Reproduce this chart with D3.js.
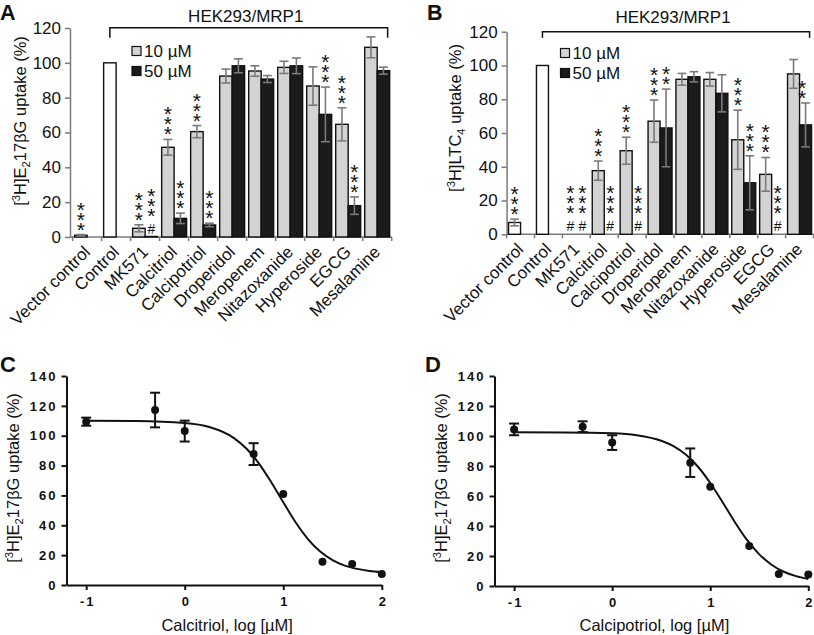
<!DOCTYPE html>
<html><head><meta charset="utf-8">
<script src="https://cdn.jsdelivr.net/npm/d3@7"></script>
<style>
body{margin:0;background:#fff}
svg{display:block}
text{font-family:"Liberation Sans",Arial,Helvetica,sans-serif}
</style>
</head><body>
<svg id="chart" width="814" height="635"></svg>
<script>
// ---------- data ----------
const categories = ["Vector control","Control","MK571","Calcitriol","Calcipotriol","Droperidol","Meropenem","Nitazoxanide","Hyperoside","EGCG","Mesalamine"];
const doses = ["10 µM","50 µM"];
const barTicks = [0,20,40,60,80,100,120];

// Panel A: [3H]E217βG uptake (%)
const aUptake10 = [1, 100, 5, 51.5, 60.5, 92.4, 95.3, 97.4, 86.7, 64.7, 108.9];
const aErr10    = [0.4, 0, 2, 4.5, 3.5, 4, 3, 3.5, 11, 9.5, 6];
const aUptake50 = [null, null, 0.3, 10.7, 6.9, 98.3, 90.7, 98.3, 70.4, 18, 95.5];
const aErr50    = [null, null, 0, 3, 1, 4, 2, 4.5, 15.7, 5, 2];
const aStars10  = [3,0,3,3,3,0,0,0,0,3,0];
const aStars50  = [0,0,3,3,3,0,0,0,3,3,0];
const aHash10   = [0,0,0,0,0,0,0,0,0,0,0];
const aHash50   = [0,0,1,0,0,0,0,0,0,0,0];

// Panel B: [3H]LTC4 uptake (%)
const bUptake10 = [7, 100, 0, 37.7, 49.5, 67, 91.8, 91.8, 56, 35.5, 95];
const bErr10    = [2, 0, 0, 5.7, 8, 12.5, 3.5, 4, 17.5, 10, 8.5];
const bUptake50 = [null, null, 0, 0, 0, 63, 93.3, 83.5, 30.5, 0, 64.8];
const bErr50    = [null, null, 0, 0, 0, 23, 3, 11, 16, 0, 13];
const bStars10  = [3,0,3,3,3,3,0,0,3,3,0];
const bStars50  = [0,0,3,3,3,2,0,0,3,3,2];
const bHash10   = [0,0,1,0,0,0,0,0,0,0,0];
const bHash50   = [0,0,1,1,1,0,0,0,0,1,0];

// Panel C: calcitriol concentration-response
const cLogConc = [-1, -0.301, 0, 0.699, 1, 1.398, 1.699, 2];
const cUptake  = [109.4, 117.2, 103.1, 87.7, 61, 15.6, 14.1, 7.4];
const cErr     = [2.7, 11.6, 7, 7.3, 0, 0, 0, 0];
const cFitX    = [-1, -0.5, 0, 0.25, 0.5, 0.625, 0.75, 0.875, 1, 1.125, 1.25, 1.375, 1.5, 1.625, 1.75, 1.875, 2];
const cFitY    = [110, 109.8, 108.5, 105.8, 98.4, 91.4, 81.7, 69.2, 55.4, 42.0, 30.8, 22.4, 16.7, 13.0, 10.8, 9.4, 8.6];

// Panel D: calcipotriol concentration-response
const dLogConc = [-1, -0.301, 0, 0.796, 1, 1.398, 1.699, 2];
const dUptake  = [104.4, 106.2, 95.6, 82.2, 66.2, 26.7, 8, 7.7];
const dErr     = [3.9, 3.6, 4.9, 9.5, 0, 0, 0, 0];
const dFitX    = [-1, -0.5, 0, 0.25, 0.5, 0.625, 0.75, 0.875, 1, 1.125, 1.25, 1.375, 1.5, 1.625, 1.75, 1.875, 2];
const dFitY    = [102.5, 102.4, 101.8, 100.5, 96.8, 93.2, 87.6, 79.5, 68.7, 56.0, 42.7, 30.7, 21.1, 14.2, 9.5, 6.6, 4.7];

const curveTicksX = [-1, 0, 1, 2];
const curveTicksY = [0,20,40,60,80,100,120,140];

// ---------- drawing ----------
const W = 814;
const svg = d3.select("#chart");
const LIGHT = "#d3d3d3", DARK = "#1b1b1b", GREY = "#7a7a7a";

function richLabel(sel, parts, size) {
  let shift = 0;
  parts.forEach(([t, kind]) => {
    const target = kind === "sup" ? -0.38 * size : kind === "sub" ? 0.25 * size : 0;
    sel.append("tspan")
      .attr("dy", target - shift)
      .attr("font-size", kind ? size * 0.68 : size)
      .text(t);
    shift = target;
  });
}

function barPanel(o) {
  const g = svg.append("g");
  const x = d3.scaleBand().domain(categories).range(o.xr).padding(0);
  const y = d3.scaleLinear().domain([0, 120]).range(o.yr);
  const bw = x.bandwidth();
  const slot = d3.scaleBand().domain(doses).range([0.07 * bw, 0.93 * bw]).padding(0);
  const y0 = y(0);

  // y axis
  const ya = g.append("g").attr("transform", `translate(${o.axisX},0)`)
    .call(d3.axisLeft(y).tickValues(barTicks).tickSize(5).tickSizeOuter(0).tickPadding(4));
  ya.select(".domain").attr("stroke", GREY).attr("stroke-width", 1.5);
  ya.selectAll(".tick line").attr("stroke", GREY).attr("stroke-width", 1.5);
  ya.selectAll(".tick text").attr("font-size", 17).attr("fill", "#111")
    .attr("font-family", "Liberation Sans, Arial, sans-serif");

  // x axis line with boundary ticks
  g.append("line").attr("x1", o.axisX).attr("x2", o.xr[1]).attr("y1", y0).attr("y2", y0)
    .attr("stroke", GREY).attr("stroke-width", 1.5);
  const bounds = categories.map(c => x(c)).concat([o.xr[1]]);
  g.selectAll(".bt").data(bounds).join("line")
    .attr("x1", d => d).attr("x2", d => d).attr("y1", y0).attr("y2", y0 + 4)
    .attr("stroke", GREY).attr("stroke-width", 1.5);
  const xa = g.append("g").attr("transform", `translate(0,${y0})`)
    .call(d3.axisBottom(x).tickSize(0).tickSizeOuter(0));
  xa.select(".domain").remove();
  xa.selectAll(".tick text")
    .attr("font-size", 17).attr("fill", "#111")
    .attr("font-family", "Liberation Sans, Arial, sans-serif")
    .attr("text-anchor", "end").attr("x", 0).attr("y", 0).attr("dy", 0)
    .attr("transform", "translate(4,16) rotate(-45)");

  // bar records
  const rows = [];
  categories.forEach((c, i) => {
    rows.push({c, dose: doses[0], v: o.v10[i], e: o.e10[i], s: o.s10[i], h: o.h10[i], ctrl: i < 2});
    if (o.v50[i] !== null) rows.push({c, dose: doses[1], v: o.v50[i], e: o.e50[i], s: o.s50[i], h: o.h50[i], ctrl: false});
  });
  const bx = d => x(d.c) + slot(d.dose);
  const sw = slot.bandwidth();

  g.selectAll(".bar").data(rows.filter(d => d.v > 0)).join("rect")
    .attr("x", bx).attr("width", sw)
    .attr("y", d => y(d.v)).attr("height", d => y0 - y(d.v))
    .attr("fill", d => d.ctrl ? "#fff" : (d.dose === doses[0] ? LIGHT : DARK))
    .attr("stroke", "#111").attr("stroke-width", 1.4);

  // error bars
  const eb = rows.filter(d => d.e > 0);
  const cap = sw * 0.36;
  const eg = g.append("g").attr("stroke", GREY).attr("stroke-width", 1.6);
  eg.selectAll(".ev").data(eb).join("line")
    .attr("x1", d => bx(d) + sw / 2).attr("x2", d => bx(d) + sw / 2)
    .attr("y1", d => y(d.v + d.e)).attr("y2", d => y(Math.max(0, d.v - d.e)));
  eg.selectAll(".et").data(eb).join("line")
    .attr("x1", d => bx(d) + sw / 2 - cap).attr("x2", d => bx(d) + sw / 2 + cap)
    .attr("y1", d => y(d.v + d.e)).attr("y2", d => y(d.v + d.e));
  eg.selectAll(".eb").data(eb).join("line")
    .attr("x1", d => bx(d) + sw / 2 - cap).attr("x2", d => bx(d) + sw / 2 + cap)
    .attr("y1", d => y(Math.max(0, d.v - d.e))).attr("y2", d => y(Math.max(0, d.v - d.e)));

  // significance marks: "#" just above the axis, asterisks stacked vertically
  rows.forEach(d => {
    const cx = bx(d) + sw / 2;
    let lowest;
    if (d.h) {
      g.append("text").attr("x", cx).attr("y", y0 - 3).attr("text-anchor", "middle")
        .attr("font-size", 14).attr("fill", "#111").text("#");
      lowest = y0 - 26;
    } else {
      lowest = y(d.v + (d.e || 0)) - 10;
    }
    if (d.s > 0) {
      g.append("text").attr("x", Math.min(cx, W - 12)).attr("y", lowest - (d.s - 1) * 10 - 7)
        .attr("font-size", 21).attr("fill", "#111")
        .style("writing-mode", "vertical-rl").style("text-orientation", "upright")
        .style("letter-spacing", "-13px")
        .text("*".repeat(d.s));
    }
  });

  // bracket + title
  const bl = x(categories[1]) + slot(doses[0]) + sw / 2;
  const br = x(categories[categories.length - 1]) + bw * 0.86;
  g.append("path").attr("d", `M${bl},${o.brY + o.brH}V${o.brY}H${br}V${o.brY + o.brH}`)
    .attr("fill", "none").attr("stroke", "#111").attr("stroke-width", 1.5);
  g.append("text").attr("x", (bl + br) / 2 - 3).attr("y", o.titleY).attr("text-anchor", "middle")
    .attr("font-size", 17).attr("fill", "#111").text("HEK293/MRP1");

  // legend
  const lg = g.append("g").attr("transform", `translate(${o.legX},${o.legY})`);
  doses.forEach((d, i) => {
    lg.append("rect").attr("x", 0).attr("y", i * 20).attr("width", 9).attr("height", 9)
      .attr("fill", i === 0 ? LIGHT : DARK).attr("stroke", "#111").attr("stroke-width", 1.2);
    lg.append("text").attr("x", 12).attr("y", i * 20 + 10.5).attr("font-size", 17).attr("fill", "#111").text(d);
  });

  // y label
  const yl = g.append("text").attr("transform", `translate(${o.ylX},${o.ylY}) rotate(-90)`)
    .attr("text-anchor", "middle").attr("fill", "#111").attr("font-size", 16.5);
  richLabel(yl, o.ylParts, 16.5);

  // panel letter
  g.append("text").attr("x", o.letterX).attr("y", 20).attr("font-size", 21.5).attr("font-weight", "bold")
    .attr("fill", "#111").text(o.letter);
}

barPanel({
  xr: [72.6, 391.7], yr: [237, 28], axisX: 70,
  v10: aUptake10, e10: aErr10, v50: aUptake50, e50: aErr50,
  s10: aStars10, s50: aStars50, h10: aHash10, h50: aHash50,
  brY: 27.7, brH: 10, titleY: 21.5, legX: 132, legY: 46.5,
  ylX: 26, ylY: 121, ylParts: [["[",""],["3","sup"],["H]E",""],["2","sub"],["17βG uptake (%)",""]],
  letterX: 0, letter: "A"
});
barPanel({
  xr: [506.6, 813.5], yr: [234.3, 31.7], axisX: 506.6,
  v10: bUptake10, e10: bErr10, v50: bUptake50, e50: bErr50,
  s10: bStars10, s50: bStars50, h10: bHash10, h50: bHash50,
  brY: 31.7, brH: 6, titleY: 22.5, legX: 560.5, legY: 48.5,
  ylX: 461, ylY: 118, ylParts: [["[",""],["3","sup"],["H]LTC",""],["4","sub"],[" uptake (%)",""]],
  letterX: 427, letter: "B"
});

function curvePanel(o) {
  const g = svg.append("g");
  const x = d3.scaleLinear().domain([-1.2, 2]).range(o.xr);
  const y = d3.scaleLinear().domain([0, 140]).range(o.yr);

  const ya = g.append("g").attr("transform", `translate(${o.xr[0]},0)`)
    .call(d3.axisLeft(y).tickValues(curveTicksY).tickSize(5).tickSizeOuter(0).tickPadding(6));
  const xa = g.append("g").attr("transform", `translate(0,${o.yr[0]})`)
    .call(d3.axisBottom(x).tickValues(curveTicksX).tickSize(5).tickSizeOuter(0).tickPadding(7).tickFormat(d => String(d)));
  [ya, xa].forEach(a => {
    a.select(".domain").attr("stroke", "#111").attr("stroke-width", 2);
    a.selectAll(".tick line").attr("stroke", "#111").attr("stroke-width", 2);
    a.selectAll(".tick text").attr("font-size", 13).attr("font-weight", "bold").attr("fill", "#111")
      .attr("letter-spacing", 2).attr("font-family", "Liberation Sans, Arial, sans-serif");
  });
  ya.selectAll(".tick text").attr("dx", 2);
  xa.selectAll(".tick text").attr("dx", 1);

  // fitted curve
  const fit = o.fx.map((v, i) => [v, o.fy[i]]);
  g.append("path").datum(fit)
    .attr("d", d3.line().x(d => x(d[0])).y(d => y(d[1])).curve(d3.curveMonotoneX))
    .attr("fill", "none").attr("stroke", "#111").attr("stroke-width", 2);

  const pts = o.px.map((v, i) => ({x: v, y: o.py[i], e: o.pe[i]}));
  const eb = pts.filter(d => d.e > 0);
  const eg = g.append("g").attr("stroke", "#111").attr("stroke-width", 2);
  eg.selectAll(".v").data(eb).join("line")
    .attr("x1", d => x(d.x)).attr("x2", d => x(d.x)).attr("y1", d => y(d.y + d.e)).attr("y2", d => y(d.y - d.e));
  [1, -1].forEach(s => {
    eg.selectAll(".c" + s).data(eb).join("line")
      .attr("x1", d => x(d.x) - 5).attr("x2", d => x(d.x) + 5)
      .attr("y1", d => y(d.y + s * d.e)).attr("y2", d => y(d.y + s * d.e));
  });
  g.selectAll(".pt").data(pts).join("circle")
    .attr("cx", d => x(d.x)).attr("cy", d => y(d.y)).attr("r", 4).attr("fill", "#111");

  g.append("text").attr("x", (o.xr[0] + o.xr[1]) / 2 + 3).attr("y", 631).attr("text-anchor", "middle")
    .attr("font-size", 16.5).attr("fill", "#111").text(o.xTitle);
  const yl = g.append("text").attr("transform", `translate(${o.ylX},478) rotate(-90)`)
    .attr("text-anchor", "middle").attr("fill", "#111").attr("font-size", 16.5);
  richLabel(yl, [["[",""],["3","sup"],["H]E",""],["2","sub"],["17βG uptake (%)",""]], 16.5);
  g.append("text").attr("x", o.letterX).attr("y", 372).attr("font-size", 22).attr("font-weight", "bold")
    .attr("fill", "#111").text(o.letter);
}

curvePanel({xr: [66.5, 381.8], yr: [585, 376], px: cLogConc, py: cUptake, pe: cErr, fx: cFitX, fy: cFitY,
  xTitle: "Calcitriol, log [µM]", ylX: 19, letterX: 0, letter: "C"});
curvePanel({xr: [494.5, 808.3], yr: [586, 376], px: dLogConc, py: dUptake, pe: dErr, fx: dFitX, fy: dFitY,
  xTitle: "Calcipotriol, log [µM]", ylX: 447, letterX: 425, letter: "D"});
</script>
</body></html>
